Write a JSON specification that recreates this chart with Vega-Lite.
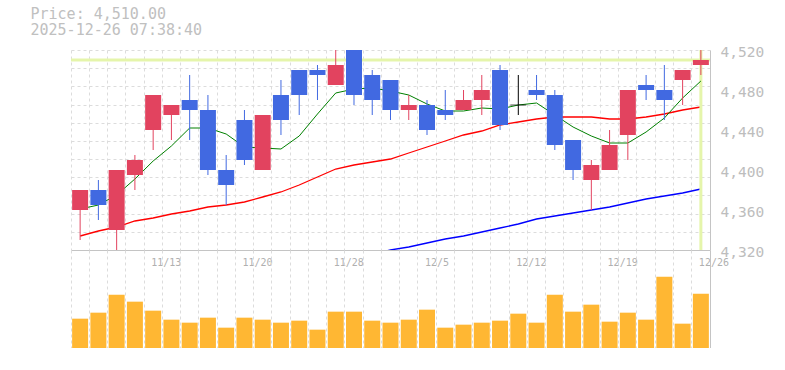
{
  "$schema": "https://vega.github.io/schema/vega-lite/v6.json",
  "background": "white",
  "padding": {"left": 30, "top": 6, "right": 0, "bottom": 0},
  "title": {
    "text": "Price: 4,510.00",
    "subtitle": "2025-12-26 07:38:40",
    "anchor": "start",
    "frame": "group",
    "font": "DejaVu Sans Mono",
    "fontSize": 15,
    "fontWeight": "normal",
    "color": "#c0c0c0",
    "subtitleFont": "DejaVu Sans Mono",
    "subtitleFontSize": 15,
    "subtitleFontWeight": "normal",
    "subtitleColor": "#c0c0c0",
    "subtitlePadding": 1,
    "offset": 7,
    "dx": -40.5
  },
  "datasets": {
    "candles": [
      {"date": "11/7", "open": 4360, "high": 4380, "low": 4330, "close": 4380, "ma5": 4361, "ma25": 4334, "ma75": null, "volume": 88000},
      {"date": "11/10", "open": 4380, "high": 4390, "low": 4350, "close": 4365, "ma5": 4365, "ma25": 4339, "ma75": null, "volume": 106000},
      {"date": "11/11", "open": 4340, "high": 4400, "low": 4316, "close": 4400, "ma5": 4375, "ma25": 4343, "ma75": null, "volume": 160000},
      {"date": "11/12", "open": 4395, "high": 4415, "low": 4380, "close": 4410, "ma5": 4391, "ma25": 4349, "ma75": null, "volume": 139000},
      {"date": "11/13", "open": 4440, "high": 4475, "low": 4420, "close": 4475, "ma5": 4409, "ma25": 4352, "ma75": null, "volume": 112000},
      {"date": "11/14", "open": 4455, "high": 4465, "low": 4430, "close": 4465, "ma5": 4424, "ma25": 4356, "ma75": null, "volume": 85000},
      {"date": "11/17", "open": 4470, "high": 4495, "low": 4430, "close": 4460, "ma5": 4442, "ma25": 4359, "ma75": null, "volume": 76000},
      {"date": "11/18", "open": 4460, "high": 4475, "low": 4395, "close": 4400, "ma5": 4442, "ma25": 4363, "ma75": null, "volume": 91000},
      {"date": "11/19", "open": 4400, "high": 4415, "low": 4365, "close": 4385, "ma5": 4436, "ma25": 4365, "ma75": null, "volume": 61000},
      {"date": "11/20", "open": 4450, "high": 4460, "low": 4405, "close": 4410, "ma5": 4423, "ma25": 4368, "ma75": null, "volume": 91000},
      {"date": "11/21", "open": 4400, "high": 4455, "low": 4400, "close": 4455, "ma5": 4422, "ma25": 4373, "ma75": null, "volume": 85000},
      {"date": "11/25", "open": 4475, "high": 4490, "low": 4435, "close": 4450, "ma5": 4421, "ma25": 4378, "ma75": null, "volume": 76000},
      {"date": "11/26", "open": 4500, "high": 4500, "low": 4455, "close": 4475, "ma5": 4434, "ma25": 4385, "ma75": null, "volume": 82000},
      {"date": "11/27", "open": 4500, "high": 4505, "low": 4470, "close": 4495, "ma5": 4456, "ma25": 4393, "ma75": null, "volume": 55000},
      {"date": "11/28", "open": 4485, "high": 4530, "low": 4485, "close": 4505, "ma5": 4477, "ma25": 4401, "ma75": null, "volume": 109000},
      {"date": "12/1", "open": 4525, "high": 4530, "low": 4465, "close": 4475, "ma5": 4481, "ma25": 4405, "ma75": null, "volume": 109000},
      {"date": "12/2", "open": 4495, "high": 4500, "low": 4455, "close": 4470, "ma5": 4482, "ma25": 4408, "ma75": 4316, "volume": 82000},
      {"date": "12/3", "open": 4490, "high": 4490, "low": 4450, "close": 4460, "ma5": 4479, "ma25": 4411, "ma75": 4320, "volume": 76000},
      {"date": "12/4", "open": 4460, "high": 4475, "low": 4450, "close": 4465, "ma5": 4475, "ma25": 4417, "ma75": 4323, "volume": 85000},
      {"date": "12/5", "open": 4465, "high": 4470, "low": 4435, "close": 4440, "ma5": 4466, "ma25": 4423, "ma75": 4327, "volume": 115000},
      {"date": "12/8", "open": 4460, "high": 4480, "low": 4450, "close": 4455, "ma5": 4459, "ma25": 4429, "ma75": 4331, "volume": 61000},
      {"date": "12/9", "open": 4460, "high": 4480, "low": 4460, "close": 4470, "ma5": 4459, "ma25": 4435, "ma75": 4334, "volume": 70000},
      {"date": "12/10", "open": 4470, "high": 4495, "low": 4455, "close": 4480, "ma5": 4462, "ma25": 4439, "ma75": 4338, "volume": 76000},
      {"date": "12/11", "open": 4500, "high": 4505, "low": 4440, "close": 4445, "ma5": 4461, "ma25": 4445, "ma75": 4342, "volume": 82000},
      {"date": "12/12", "open": 4465, "high": 4495, "low": 4455, "close": 4465, "ma5": 4465, "ma25": 4448, "ma75": 4346, "volume": 103000},
      {"date": "12/15", "open": 4480, "high": 4495, "low": 4470, "close": 4475, "ma5": 4467, "ma25": 4451, "ma75": 4351, "volume": 76000},
      {"date": "12/16", "open": 4475, "high": 4480, "low": 4420, "close": 4425, "ma5": 4455, "ma25": 4453, "ma75": 4354, "volume": 160000},
      {"date": "12/17", "open": 4430, "high": 4430, "low": 4390, "close": 4400, "ma5": 4443, "ma25": 4453, "ma75": 4357, "volume": 109000},
      {"date": "12/18", "open": 4390, "high": 4410, "low": 4360, "close": 4405, "ma5": 4434, "ma25": 4453, "ma75": 4360, "volume": 130000},
      {"date": "12/19", "open": 4400, "high": 4440, "low": 4400, "close": 4425, "ma5": 4427, "ma25": 4451, "ma75": 4363, "volume": 79000},
      {"date": "12/22", "open": 4435, "high": 4480, "low": 4410, "close": 4480, "ma5": 4427, "ma25": 4451, "ma75": 4367, "volume": 106000},
      {"date": "12/23", "open": 4485, "high": 4495, "low": 4470, "close": 4480, "ma5": 4438, "ma25": 4453, "ma75": 4371, "volume": 85000},
      {"date": "12/24", "open": 4480, "high": 4505, "low": 4450, "close": 4470, "ma5": 4452, "ma25": 4456, "ma75": 4374, "volume": 214000},
      {"date": "12/25", "open": 4490, "high": 4500, "low": 4465, "close": 4500, "ma5": 4472, "ma25": 4460, "ma75": 4377, "volume": 73000},
      {"date": "12/26", "open": 4505, "high": 4525, "low": 4495, "close": 4510, "ma5": 4489, "ma25": 4463, "ma75": 4381, "volume": 163000}
    ]
  },
  "data": {"name": "candles"},
  "spacing": 0,
  "bounds": "flush",
  "vconcat": [
    {
      "width": 639,
      "height": 200,
      "layer": [
        {
          "mark": {"type": "line", "color": "#ff0000", "strokeWidth": 1.3, "clip": true},
          "encoding": {
            "x": {
              "field": "date",
              "type": "ordinal",
              "sort": null,
              "scale": {"paddingInner": 0, "paddingOuter": 0},
              "axis": {
                "orient": "bottom",
                "title": null,
                "bandPosition": 0,
                "grid": true,
                "gridColor": "#dcdcdc",
                "gridDash": [3, 3],
                "ticks": false,
                "domain": true,
                "domainColor": "#c4c4c4",
                "labelAngle": 0,
                "labelOverlap": false,
                "labelAlign": "left",
                "labelOffset": -2,
                "labelPadding": 7,
                "labelFont": "DejaVu Sans Mono",
                "labelFontSize": 10,
                "labelColor": "#b0b0b0",
                "labelExpr": "indexof(['11/13','11/20','11/28','12/5','12/12','12/19','12/26'], datum.value) >= 0 ? datum.value : ''"
              }
            },
            "y": {
              "field": "ma25",
              "type": "quantitative",
              "scale": {"domain": [4320, 4520], "nice": false, "zero": false},
              "axis": {
                "orient": "left",
                "title": null,
                "values": [4338.18, 4356.36, 4374.55, 4392.73, 4410.91, 4429.09, 4447.27, 4465.45, 4483.64, 4501.82, 4520],
                "grid": true,
                "gridColor": "#dcdcdc",
                "gridDash": [3, 3],
                "labels": false,
                "ticks": false,
                "domain": false
              }
            }
          }
        },
        {
          "mark": {"type": "line", "color": "#0000ff", "strokeWidth": 1.3, "clip": true},
          "encoding": {
            "x": {"field": "date", "type": "ordinal", "sort": null, "scale": {"paddingInner": 0, "paddingOuter": 0}},
            "y": {"field": "ma75", "type": "quantitative", "scale": {"domain": [4320, 4520], "nice": false, "zero": false}, "axis": null}
          }
        },
        {
          "transform": [{"filter": {"field": "date", "equal": "12/26"}}],
          "mark": {"type": "rule", "color": "#e5f5ab", "strokeWidth": 3},
          "encoding": {
            "y": {"field": "close", "type": "quantitative", "scale": {"domain": [4320, 4520], "nice": false, "zero": false}, "axis": null}
          }
        },
        {
          "transform": [{"filter": {"field": "date", "equal": "12/26"}}],
          "mark": {"type": "rule", "color": "#e5f5ab", "strokeWidth": 3},
          "encoding": {
            "x": {"field": "date", "type": "ordinal", "sort": null, "scale": {"paddingInner": 0, "paddingOuter": 0}}
          }
        },
        {
          "mark": {"type": "line", "color": "#008000", "strokeWidth": 1, "clip": true},
          "encoding": {
            "x": {"field": "date", "type": "ordinal", "sort": null, "scale": {"paddingInner": 0, "paddingOuter": 0}},
            "y": {"field": "ma5", "type": "quantitative", "scale": {"domain": [4320, 4520], "nice": false, "zero": false}, "axis": null}
          }
        },
        {
          "mark": {"type": "rule", "strokeWidth": 1, "clip": true},
          "encoding": {
            "x": {"field": "date", "type": "ordinal", "sort": null, "scale": {"paddingInner": 0, "paddingOuter": 0}},
            "y": {"field": "low", "type": "quantitative", "scale": {"domain": [4320, 4520], "nice": false, "zero": false}, "axis": null},
            "y2": {"field": "high"},
            "color": {
              "condition": [
                {"test": "datum.close > datum.open", "value": "#e2435f"},
                {"test": "datum.close < datum.open", "value": "#4169e1"}
              ],
              "value": "#000000"
            }
          }
        },
        {
          "mark": {"type": "bar", "size": 16, "clip": true},
          "encoding": {
            "x": {"field": "date", "type": "ordinal", "sort": null, "scale": {"paddingInner": 0, "paddingOuter": 0}},
            "y": {
              "field": "open",
              "type": "quantitative",
              "scale": {"domain": [4320, 4520], "nice": false, "zero": false},
              "axis": {
                "orient": "right",
                "title": null,
                "values": [4320, 4360, 4400, 4440, 4480, 4520],
                "format": ",d",
                "grid": false,
                "ticks": false,
                "domain": true,
                "domainColor": "#c4c4c4",
                "labelPadding": 10,
                "labelOffset": 2.5,
                "labelFont": "DejaVu Sans Mono",
                "labelFontSize": 14.5,
                "labelColor": "#bdbdbd"
              }
            },
            "y2": {"field": "close"},
            "color": {
              "condition": [
                {"test": "datum.close > datum.open", "value": "#e2435f"},
                {"test": "datum.close < datum.open", "value": "#4169e1"}
              ],
              "value": "#000000"
            }
          }
        },
        {
          "transform": [{"filter": "datum.open == datum.close"}],
          "mark": {"type": "tick", "size": 16, "thickness": 1, "color": "#000000", "clip": true},
          "encoding": {
            "x": {"field": "date", "type": "ordinal", "sort": null, "scale": {"paddingInner": 0, "paddingOuter": 0}},
            "y": {"field": "close", "type": "quantitative", "scale": {"domain": [4320, 4520], "nice": false, "zero": false}, "axis": null}
          }
        }
      ],
      "resolve": {"axis": {"y": "independent"}}
    },
    {
      "width": 639,
      "height": 98,
      "mark": {"type": "bar", "size": 16, "color": "#ffb733"},
      "encoding": {
        "x": {
          "field": "date",
          "type": "ordinal",
          "sort": null,
          "scale": {"paddingInner": 0, "paddingOuter": 0},
          "axis": {
            "orient": "bottom",
            "title": null,
            "bandPosition": 0,
            "grid": true,
            "gridColor": "#dcdcdc",
            "gridDash": [3, 3],
            "ticks": false,
            "labels": false,
            "domain": true,
            "domainColor": "#c4c4c4"
          }
        },
        "y": {
          "field": "volume",
          "type": "quantitative",
          "scale": {"domain": [0, 294000], "nice": false},
          "axis": {
            "orient": "right",
            "title": null,
            "grid": false,
            "ticks": false,
            "labels": false,
            "domain": true,
            "domainColor": "#c4c4c4"
          }
        }
      }
    }
  ],
  "config": {
    "view": {"stroke": null}
  }
}
